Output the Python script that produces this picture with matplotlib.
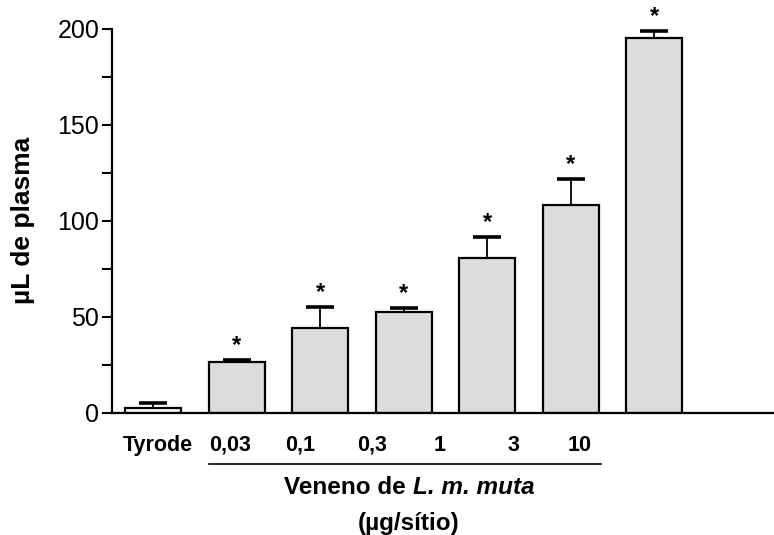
import matplotlib
matplotlib.use("Agg")
from matplotlib import pyplot as plt

plt.rcParams['font.family'] = ['Liberation Sans', 'DejaVu Sans']

groups = ["Tyrode", "0,03", "0,1", "0,3", "1", "3", "10"]
means = [2.6, 26.6, 44.0, 52.4, 80.8, 108.3, 195.5]
upper = [4.9, 27.4, 55.0, 54.8, 91.6, 121.9, 199.1]
significant = [False, True, True, True, True, True, True]
colors = ["white"] + ["#dcdcdc"] * 6

# tick labels in the original sit a bit left of the bars
label_pos = [0.05, 0.92, 1.76, 2.62, 3.43, 4.31, 5.11]

fig = plt.figure(figsize=(7.74, 5.35), dpi=100)
ax = fig.add_axes([0.1443, 0.2286, 0.8557, 0.7172])

x = list(range(len(groups)))
errs = [u - m for u, m in zip(upper, means)]
ax.bar(x, means, width=0.67, color=colors, edgecolor="black", linewidth=1.6, zorder=2)
eb = ax.errorbar(x, means, yerr=[[0] * len(errs), errs], fmt="none", ecolor="black",
                 elinewidth=1.3, capsize=10, capthick=2.6, zorder=3)
# only the upper cap is drawn in the original
eb[1][0].set_visible(False)

for xi, top, sig in zip(x, upper, significant):
    if sig:
        ax.annotate("*", (xi, top), xytext=(0, 2), textcoords="offset points",
                    ha="center", va="bottom", fontsize=17, fontweight="bold")

ax.set_xlim(-0.497, 7.435)
ax.set_ylim(0, 200)
ax.set_yticks([0, 50, 100, 150, 200])
ax.set_yticks([25, 75, 125, 175], minor=True)
ax.tick_params(axis="y", which="both", length=7, width=1.5, labelsize=18, pad=2)
ax.set_xticks(label_pos)
ax.set_xticklabels(groups, fontsize=15.5, fontweight="bold")
ax.tick_params(axis="x", length=0, pad=16)

for side in ["top", "right"]:
    ax.spines[side].set_visible(False)
for side in ["left", "bottom"]:
    ax.spines[side].set_linewidth(1.6)

ax.set_ylabel("\u00b5L de plasma", fontsize=19, fontweight="bold", labelpad=16)

# bracket line under the venom doses and the group label
ax.plot([0.668, 5.363], [-26.7, -26.7], color="black", linewidth=1.2, clip_on=False)
ax.text(3.02, -39.2, "Veneno de", ha="right", va="center",
        fontsize=17.5, fontweight="bold")
ax.text(3.11, -39.2, "L. m. muta", ha="left", va="center",
        fontsize=17.5, fontweight="bold", fontstyle="italic")
ax.text(3.06, -57.5, "(\u00b5g/s\u00edtio)", ha="center", va="center",
        fontsize=17.5, fontweight="bold")

fig.savefig("out.png", dpi=100)
plt.close(fig)
